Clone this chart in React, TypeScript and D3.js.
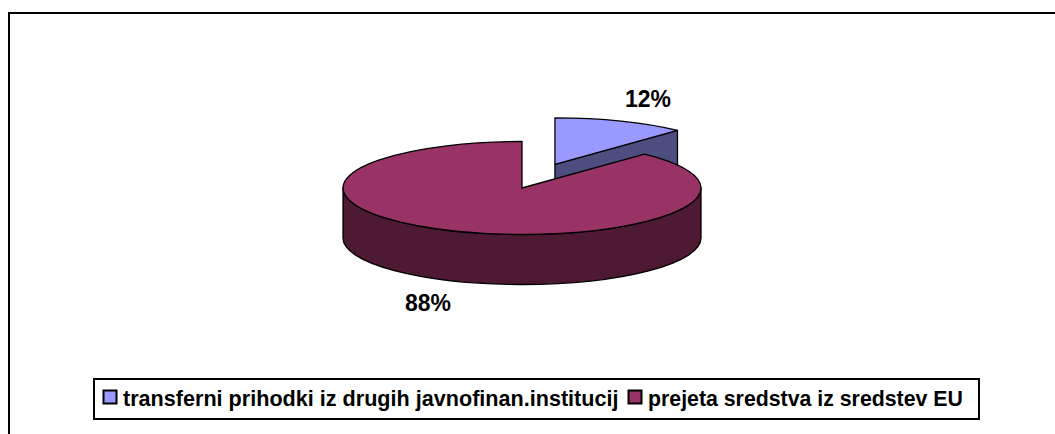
import React from "react";
import * as d3 from "d3";

const categories = [
  "transferni prihodki iz drugih javnofinan.institucij",
  "prejeta sredstva iz sredstev EU",
];
const values = [12, 88];
const pctLabels = ["12%", "88%"];
const topColors = ["#9999FF", "#993366"];
const sideColors = ["#4D4D80", "#4D1933"];
const explode = [0.5, 0];

const W = 1055;
const H = 434;
const cx = 522;
const cy = 188;
const rx = 179;
const ry = 46.5;
const depth = 50;
const FONT = "'Liberation Sans', Arial, Helvetica, sans-serif";

function pt(a: number, ox: number, oy: number, dz = 0): [number, number] {
  return [ox + rx * Math.sin(a), oy - ry * Math.cos(a) + dz];
}

export default function App() {
  const pie = d3
    .pie<number>()
    .sort(null)
    .startAngle(0)
    .endAngle(2 * Math.PI)(values);

  const slices = pie.map((p, i) => {
    const mid = (p.startAngle + p.endAngle) / 2;
    const ox = cx + rx * explode[i] * Math.sin(mid);
    const oy = cy - ry * explode[i] * Math.cos(mid) - (explode[i] > 0 ? 2 : 0);
    const s = pt(p.startAngle, ox, oy);
    const e = pt(p.endAngle, ox, oy);
    const large = p.endAngle - p.startAngle > Math.PI ? 1 : 0;
    const top = `M${ox},${oy}L${s[0]},${s[1]}A${rx},${ry} 0 ${large} 1 ${e[0]},${e[1]}Z`;
    const a0 = Math.max(p.startAngle, Math.PI / 2);
    const a1 = Math.min(p.endAngle, (3 * Math.PI) / 2);
    let outer: string | null = null;
    if (a1 > a0) {
      const p0 = pt(a0, ox, oy);
      const p1 = pt(a1, ox, oy);
      const l = a1 - a0 > Math.PI ? 1 : 0;
      outer = `M${p0[0]},${p0[1]}A${rx},${ry} 0 ${l} 1 ${p1[0]},${p1[1]}L${p1[0]},${p1[1] + depth}A${rx},${ry} 0 ${l} 0 ${p0[0]},${p0[1] + depth}Z`;
    }
    let endFace: string | null = null;
    if (explode[i] > 0 && p.endAngle < Math.PI) {
      endFace = `M${ox},${oy}L${e[0]},${e[1]}L${e[0]},${e[1] + depth}L${ox},${oy + depth}Z`;
    }
    return { i, top, outer, endFace };
  });

  const stroke = { stroke: "#000", strokeWidth: 1.3, strokeLinejoin: "round" as const };

  return (
    <svg
      width={W}
      height={H}
      style={{ position: "absolute", left: 0, top: 0, background: "#fff" }}
    >
      <rect x={9} y={13} width={1200} height={600} fill="#fff" stroke="#000" strokeWidth={2} />
      {slices
        .filter((s) => s.i === 0)
        .map((s) => (
          <g key={s.i}>
            {s.endFace && <path d={s.endFace} fill={sideColors[s.i]} {...stroke} />}
            {s.outer && <path d={s.outer} fill={sideColors[s.i]} {...stroke} />}
            <path d={s.top} fill={topColors[s.i]} {...stroke} />
          </g>
        ))}
      {slices
        .filter((s) => s.i === 1)
        .map((s) => (
          <g key={s.i}>
            {s.outer && <path d={s.outer} fill={sideColors[s.i]} {...stroke} />}
            <path d={s.top} fill={topColors[s.i]} {...stroke} />
          </g>
        ))}
      <text x={625} y={107} fontFamily={FONT} fontWeight="bold" fontSize={23} fill="#000">
        {pctLabels[0]}
      </text>
      <text x={405} y={311} fontFamily={FONT} fontWeight="bold" fontSize={23} fill="#000">
        {pctLabels[1]}
      </text>
      <rect x={94} y={379} width={885} height={40} fill="#fff" stroke="#000" strokeWidth={2} />
      <rect x={103.5} y={390.5} width={13} height={13} fill={topColors[0]} stroke="#000" strokeWidth={2} />
      <text x={123} y={406} fontFamily={FONT} fontWeight="bold" fontSize={21.6} fill="#000">
        {categories[0]}
      </text>
      <rect x={628.5} y={390.5} width={13} height={13} fill={topColors[1]} stroke="#000" strokeWidth={2} />
      <text x={648} y={406} fontFamily={FONT} fontWeight="bold" fontSize={21.3} fill="#000">
        {categories[1]}
      </text>
    </svg>
  );
}
